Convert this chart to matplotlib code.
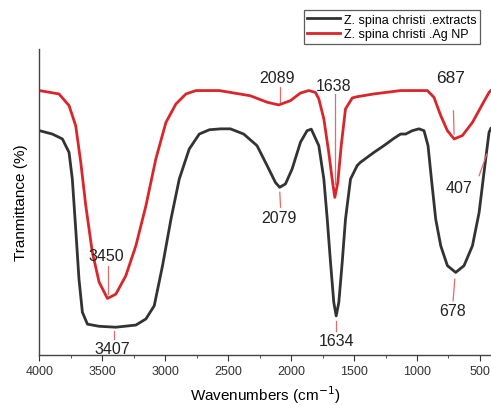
import numpy as np
import matplotlib
matplotlib.use('Agg')
import matplotlib.pyplot as plt
from matplotlib.ticker import MultipleLocator

plt.rcParams['font.family'] = ['Liberation Sans', 'DejaVu Sans']

# spectra (wavenumber, transmittance in arbitrary %)
wn_extract = [4000, 3898, 3818, 3765, 3739, 3712, 3686, 3659, 3619, 3526, 3393, 3234,
              3154, 3088, 3022, 2955, 2889, 2810, 2730, 2650, 2560, 2483, 2377, 2271,
              2191, 2125, 2091, 2045, 1992, 1926, 1873, 1840, 1780, 1740, 1713, 1687,
              1661, 1642, 1621, 1594, 1568, 1528, 1475, 1448, 1342, 1263, 1183, 1130,
              1090, 1037, 984, 944, 912, 885, 851, 811, 758, 692, 626, 559, 506, 467,
              427, 413]
t_extract = [73.3, 72.2, 70.6, 66.2, 57.5, 41.2, 24.8, 14.0, 10.1, 9.4, 9.1, 9.8,
             11.8, 16.1, 29.2, 44.4, 57.5, 67.3, 72.2, 73.6, 73.9, 73.9, 72.2, 68.4,
             61.9, 56.4, 54.8, 55.9, 60.8, 69.5, 73.3, 73.8, 68.4, 57.5, 44.4, 30.3,
             17.2, 12.8, 17.2, 30.3, 44.4, 57.5, 61.9, 63.0, 66.2, 68.4, 70.8, 72.2,
             72.2, 73.3, 73.9, 73.3, 68.4, 57.5, 44.4, 35.7, 29.2, 27.0, 29.2, 35.7,
             46.6, 59.7, 72.8, 74.0]

wn_agnp = [4000, 3845, 3765, 3712, 3672, 3632, 3580, 3526, 3460, 3393, 3314, 3234,
           3154, 3075, 2995, 2916, 2836, 2756, 2571, 2483, 2324, 2191, 2099, 2006,
           1926, 1860, 1807, 1780, 1740, 1701, 1674, 1653, 1629, 1602, 1568, 1514,
           1475, 1342, 1130, 917, 865, 811, 758, 705, 639, 559, 479, 427, 413]
t_agnp = [86.4, 85.3, 81.5, 74.9, 63.0, 48.8, 33.6, 23.8, 18.5, 19.9, 25.9, 35.7,
          48.8, 64.1, 76.0, 82.0, 85.3, 86.4, 86.4, 85.8, 84.7, 82.6, 81.7, 83.1,
          85.6, 86.4, 85.8, 83.7, 77.1, 66.2, 57.5, 51.5, 56.4, 68.4, 80.4, 84.0,
          84.4, 85.3, 86.4, 86.4, 84.2, 78.2, 73.3, 70.6, 71.7, 76.0, 82.0, 85.8,
          86.4]

# peak labels: text, text x, text y, leader line x0, y0, x1, y1
peak_labels = ['2089', '1638', '687', '407', '2079', '3450', '3407', '1634', '678']
label_xy = [(2111, 90.7), (1660, 88.2), (731, 90.7), (665, 54.8), (2098, 45.0),
            (3469, 32.5), (3424, 2.0), (1639, 4.7), (718, 14.5)]
leader_lines = [(2090, 87.5, 2090, 82.6), (1649, 85.3, 1649, 56.0),
                (710, 79.8, 705, 72.2), (506, 58.6, 445, 65.7),
                (2090, 53.2, 2084, 48.3), (3459, 29.2, 3459, 19.9),
                (3411, 7.9, 3411, 5.2), (1647, 11.2, 1647, 7.9),
                (699, 24.8, 713, 17.7)]

fig = plt.figure(figsize=(4.91, 4.06), dpi=100)
ax = fig.add_axes([0.0804, 0.123, 0.92, 0.754])

ax.plot(wn_extract, t_extract, color='#333333', lw=2.0, label='Z. spina christi .extracts')
ax.plot(wn_agnp, t_agnp, color='#d9262b', lw=2.0, label='Z. spina christi .Ag NP')

for txt, (tx, ty), (x0, y0, x1, y1) in zip(peak_labels, label_xy, leader_lines):
    ax.plot([x0, x1], [y0, y1], color='#e06c6c', lw=0.9)
    fs = 12.5 if txt == '687' else 11.5
    ax.text(tx, ty, txt, ha='center', va='center', fontsize=fs, color='#222222')

ax.set_xlim(4000, 410)
ax.set_ylim(0, 100)
ax.xaxis.set_major_locator(MultipleLocator(500))
ax.xaxis.set_minor_locator(MultipleLocator(250))
ax.tick_params(axis='x', which='major', length=4, direction='out', labelsize=9, colors='#333333')
ax.tick_params(axis='x', which='minor', length=2, direction='out', colors='#333333')
ax.set_yticks([])
for s in ['top', 'right']:
    ax.spines[s].set_visible(False)
for s in ['left', 'bottom']:
    ax.spines[s].set_color('#444444')
    ax.spines[s].set_linewidth(1.0)

ax.set_xlabel('Wavenumbers (cm$^{-1}$)', fontsize=11, labelpad=4)
ax.set_ylabel('Tranmittance (%)', fontsize=11, labelpad=8)

leg = ax.legend(loc='upper right', bbox_to_anchor=(480 / 491, 1 - 11 / 406),
                bbox_transform=fig.transFigure, fontsize=9, frameon=True, fancybox=False,
                handlelength=2.6, handletextpad=0.3, borderpad=0.3, labelspacing=0.2,
                borderaxespad=0)
leg.get_frame().set_edgecolor('#333333')
leg.get_frame().set_linewidth(0.9)

fig.savefig('out.png', dpi=100)
